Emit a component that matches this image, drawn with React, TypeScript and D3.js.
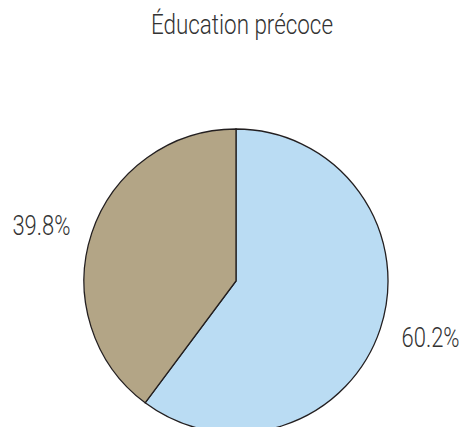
import React, { useEffect, useRef } from 'react'
import * as d3 from 'd3'

const categories = ['Oui', 'Non']
const shares = [60.2, 39.8]
const sliceColors = ['#badcf3', '#b3a586']
const title = 'Éducation précoce'

const W = 465
const H = 427
const cx = 236
const cy = 281
const radius = 152
const labelRadius = 205
const font = 'Roboto, "Liberation Sans", sans-serif'

export default function App() {
  const ref = useRef<SVGSVGElement>(null)

  useEffect(() => {
    const svg = d3.select(ref.current)
    svg.selectAll('*').remove()

    // condensed look: squeeze text horizontally to the reference widths
    svg.append('text')
      .attr('x', 151)
      .attr('y', 34)
      .attr('textLength', 182)
      .attr('lengthAdjust', 'spacingAndGlyphs')
      .style('font-family', font)
      .style('font-weight', 300)
      .style('font-size', '27px')
      .attr('fill', '#333')
      .text(title)

    const pie = d3.pie<number>().sort(null).value(d => d)
    const arcs = pie(shares)

    const arc = d3.arc<d3.PieArcDatum<number>>()
      .innerRadius(0)
      .outerRadius(radius)

    const labelArc = d3.arc<d3.PieArcDatum<number>>()
      .innerRadius(labelRadius)
      .outerRadius(labelRadius)

    const g = svg.append('g').attr('transform', `translate(${cx},${cy})`)

    g.selectAll('path')
      .data(arcs)
      .enter()
      .append('path')
      .attr('d', arc)
      .attr('fill', (d, i) => sliceColors[i])
      .attr('stroke', '#231f20')
      .attr('stroke-width', 1.3)
      .attr('data-category', (d, i) => categories[i])

    g.selectAll('.slice-label')
      .data(arcs)
      .enter()
      .append('text')
      .attr('class', 'slice-label')
      .each(function (d) {
        const [x, y] = labelArc.centroid(d)
        d3.select(this)
          .attr('x', x - 29)
          .attr('y', y * 0.87 + 10)
      })
      .attr('textLength', 58)
      .attr('lengthAdjust', 'spacingAndGlyphs')
      .style('font-family', font)
      .style('font-weight', 300)
      .style('font-size', '28px')
      .attr('fill', '#333')
      .text(d => d.data.toFixed(1) + '%')
  }, [])

  return (
    <svg
      ref={ref}
      width={W}
      height={H}
      style={{ position: 'absolute', left: 0, top: 0, background: '#fff' }}
    />
  )
}
